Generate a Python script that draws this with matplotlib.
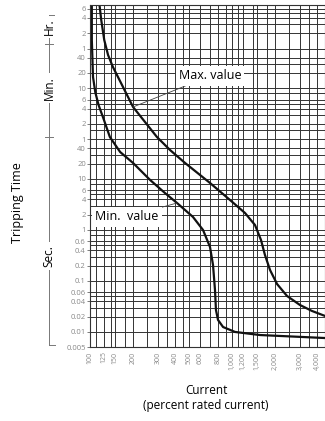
import matplotlib.pyplot as plt
from matplotlib.lines import Line2D
from matplotlib.ticker import FixedLocator, NullFormatter

plt.rcParams['font.family'] = ['Open Sans', 'DejaVu Sans']

# current in percent of rated current, tripping time in seconds
max_current = [116, 120, 126, 134, 145, 168, 201, 244, 296, 366, 467, 700, 968,
               1235, 1452, 1600, 1706, 1853, 2075, 2439, 3010, 3657, 4518]
max_time = [29570, 13120, 5310, 2700, 1571, 697, 258, 131, 66.6, 37, 20.6, 8.35, 3.87,
            2.15, 1.25, 0.637, 0.324, 0.164, 0.0873, 0.0508, 0.0338, 0.0258, 0.0206]

min_current = [103, 103, 105, 109, 115, 124, 138, 163, 201, 265, 337, 410, 531, 625,
               700, 735, 759, 771, 797, 865, 1050, 1575, 4518]
min_time = [32300, 5310, 1000, 500, 280, 157, 66.6, 33.8, 20.6, 9.56, 5.31, 3.38, 1.80, 1.0,
            0.464, 0.206, 0.0666, 0.027, 0.0172, 0.0125, 0.0100, 0.0087, 0.0076]

# axis ticks
x_ticks = [100, 125, 150, 200, 300, 400, 500, 600, 800, 1000, 1200, 1500, 2000, 3000, 4000]
x_labels = ['100', '125', '150', '200', '300', '400', '500', '600', '800',
            '1,000', '1,200', '1,500', '2,000', '3,000', '4,000']
y_ticks = [21600, 14400, 7200, 3600, 2400, 1200, 600, 360, 240, 120, 60,
           40, 20, 10, 6, 4, 2, 1, 0.6, 0.4, 0.2, 0.1, 0.06, 0.04, 0.02, 0.01, 0.005]
y_labels = ['6', '4', '2', '1', '40', '20', '10', '6', '4', '2', '1',
            '40', '20', '10', '6', '4', '2', '1', '0.6', '0.4', '0.2', '0.1',
            '0.06', '0.04', '0.02', '0.01', '0.005']

# extra grid lines of the chart paper
x_grid = [110, 140, 175, 250, 350, 450, 700, 900, 1100, 1400, 1750, 2500, 3500]
y_grid = [18000, 10800, 1800, 480, 300, 180, 90,
          30, 8, 5, 3, 0.8, 0.5, 0.3, 0.05, 0.03]

fig = plt.figure(figsize=(3.25, 4.21), dpi=100)
ax = fig.add_axes([90 / 325, 1 - 347.3 / 421, 235 / 325, 342.3 / 421])

ax.plot(max_current, max_time, color='#111111', lw=1.6)
ax.plot(min_current, min_time, color='#111111', lw=1.6)

ax.set_xscale('log')
ax.set_yscale('log')
ax.set_xlim(100, 4518)
ax.set_ylim(0.005, 25800)

ax.xaxis.set_major_locator(FixedLocator(x_ticks))
ax.set_xticklabels(x_labels, rotation=90, fontsize=5, color='#888888')
ax.xaxis.set_minor_locator(FixedLocator(x_grid))
ax.xaxis.set_minor_formatter(NullFormatter())
ax.yaxis.set_major_locator(FixedLocator(y_ticks))
ax.set_yticklabels(y_labels, fontsize=5.5, color='#888888')
ax.yaxis.set_minor_locator(FixedLocator(y_grid))
ax.yaxis.set_minor_formatter(NullFormatter())
ax.tick_params(axis='x', which='major', length=0, pad=3)
ax.tick_params(axis='y', which='major', length=2, width=0.6, pad=1, color='#666666')
ax.tick_params(which='minor', length=0)

ax.grid(True, which='both', color='#333333', lw=0.7)
for s in ax.spines.values():
    s.set_color('#333333')
    s.set_linewidth(0.8)

# labels on the curves
box = dict(boxstyle='square,pad=0.25', fc='white', ec='none')
ax.annotate('Max. value', xy=(201, 258), xytext=(700, 1046), fontsize=9,
            ha='center', va='center', bbox=box,
            arrowprops=dict(arrowstyle='-', color='#444444', lw=0.6, shrinkA=0, shrinkB=0))
ax.annotate('Min.  value', xy=(410, 3.38), xytext=(182, 1.8), fontsize=9,
            ha='center', va='center', bbox=box,
            arrowprops=dict(arrowstyle='-', color='#444444', lw=0.6, shrinkA=0, shrinkB=0))

# axis titles
fig.text(18 / 325, 1 - 203 / 421, 'Tripping Time', rotation=90, fontsize=9,
         ha='center', va='center')
fig.text(206 / 325, 1 - 390 / 421, 'Current', fontsize=8.5, ha='center', va='center')
fig.text(206 / 325, 1 - 405 / 421, '(percent rated current)', fontsize=8.5,
         ha='center', va='center')

# Hr. / Min. / Sec. brackets
def px(x, y):
    return x / 325, 1 - y / 421

bx = 49
fig.add_artist(Line2D([px(bx, 15)[0], px(bx, 345)[0]], [px(bx, 15)[1], px(bx, 345)[1]],
                      color='#777777', lw=0.7))
for y, x0, x1 in [(15, 49, 54), (44, 45, 53), (137, 45, 53), (345, 49, 55)]:
    fig.add_artist(Line2D([px(x0, y)[0], px(x1, y)[0]], [px(x0, y)[1], px(x1, y)[1]],
                          color='#777777', lw=0.7))
for name, y in [('Hr.', 27), ('Min.', 88), ('Sec.', 256)]:
    fig.text(px(bx, y)[0], px(bx, y)[1], name, rotation=90, fontsize=8.5,
             ha='center', va='center', bbox=dict(boxstyle='square,pad=0.25', fc='white', ec='none'))

plt.savefig('out.png', dpi=100)
